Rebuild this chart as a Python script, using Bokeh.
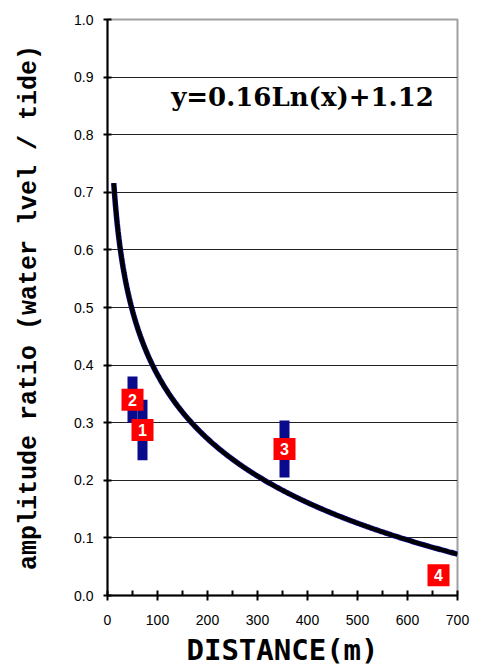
import numpy as np
from bokeh.plotting import figure
from bokeh.models import Range1d, FixedTicker, PrintfTickFormatter, Label, ColumnDataSource
from bokeh.core.properties import value
from bokeh.embed import file_html
from bokeh.resources import INLINE

# fitted trend: y = a*ln(x) + b
fit_a = -0.16
fit_b = 1.12
fit_x_start = 12.5
fit_x_end = 700

# observation sites: distance (m) and amplitude ratio range
site_id = ["1", "2", "3", "4"]
site_x = [70, 50, 354, 662]
site_low = [0.235, 0.30, 0.205, 0.035]
site_high = [0.34, 0.38, 0.304, 0.035]

x_ticks = [0, 100, 200, 300, 400, 500, 600, 700]
y_ticks = [0.0, 0.1, 0.2, 0.3, 0.4, 0.5, 0.6, 0.7, 0.8, 0.9, 1.0]

p = figure(frame_width=350, frame_height=576, output_backend="svg", toolbar_location=None,
           x_range=Range1d(0, 700), y_range=Range1d(0, 1.0),
           min_border_left=107, min_border_right=15, min_border_top=19, min_border_bottom=66)
p.background_fill_color = "white"
p.border_fill_color = "white"
p.outline_line_color = "#a0a0a0"
p.outline_line_width = 2

# grids
p.xgrid.visible = False
p.ygrid.ticker = FixedTicker(ticks=y_ticks)
p.ygrid.grid_line_color = "#222222"
p.ygrid.grid_line_width = 1

# axes
for ax in (p.xaxis[0], p.yaxis[0]):
    ax.axis_line_color = "black"
    ax.axis_line_width = 2
    ax.major_tick_line_color = "black"
    ax.major_tick_line_width = 2
    ax.major_label_text_font = "Liberation Sans"
    ax.major_label_text_font_size = "14px"
    ax.major_label_text_color = "black"

p.xaxis.ticker = FixedTicker(ticks=x_ticks, minor_ticks=[50, 150, 250, 350, 450, 550, 650])
p.xaxis.major_tick_in = 5
p.xaxis.major_tick_out = 5
p.xaxis.minor_tick_in = 5
p.xaxis.minor_tick_out = 0
p.xaxis.minor_tick_line_color = "black"
p.xaxis.minor_tick_line_width = 2
p.xaxis.major_label_standoff = 14
p.xaxis.axis_label = "DISTANCE(m)"
p.xaxis.axis_label_text_font = "DejaVu Sans Mono"
p.xaxis.axis_label_text_font_style = "bold"
p.xaxis.axis_label_text_font_size = "29px"
p.xaxis.axis_label_standoff = 5
p.xaxis.axis_label_text_color = "black"

p.yaxis.ticker = FixedTicker(ticks=y_ticks)
p.yaxis.formatter = PrintfTickFormatter(format="%.1f")
p.yaxis.major_tick_in = 4
p.yaxis.major_tick_out = 4
p.yaxis.minor_tick_line_color = None
p.yaxis.major_label_standoff = 10
p.yaxis.axis_label = "amplitude ratio (water lvel / tide)"
p.yaxis.axis_label_text_font = "Liberation Mono"
p.yaxis.axis_label_text_font_style = "bold"
p.yaxis.axis_label_text_font_size = "25px"
p.yaxis.axis_label_standoff = 27
p.yaxis.axis_label_text_color = "black"

# observations (blue bars)
bars = ColumnDataSource(dict(x=site_x[:3], y0=site_low[:3], y1=site_high[:3]))
p.segment(x0="x", y0="y0", x1="x", y1="y1", source=bars, line_color="#0a0a8c", line_width=10)

# trend curve
fx = np.linspace(fit_x_start, fit_x_end, 400)
fy = fit_a * np.log(fx) + fit_b
p.line(fx, fy, line_color="#0a0a8c", line_width=5.5)
p.line(fx, fy, line_color="black", line_width=4)

# site labels
lab_y = [(lo + hi) / 2 for lo, hi in zip(site_low, site_high)]
labs = ColumnDataSource(dict(x=site_x, y=lab_y, t=site_id))
p.scatter(x="x", y="y", source=labs, marker="square", size=22, fill_color="#ff0000", line_color=None)
p.text(x="x", y="y", text="t", source=labs, text_color="white", text_font=value("Liberation Sans"),
       text_font_style="bold", text_font_size="16px", text_align="center", text_baseline="middle")

eq = Label(x=390, y=0.865, text="y=0.16Ln(x)+1.12", text_font="DejaVu Serif", text_font_style="bold",
           text_font_size="26px", text_align="center", text_baseline="middle", text_color="black",
           background_fill_color="white")
p.add_layout(eq)

open("out.html", "w").write(file_html(p, INLINE))
